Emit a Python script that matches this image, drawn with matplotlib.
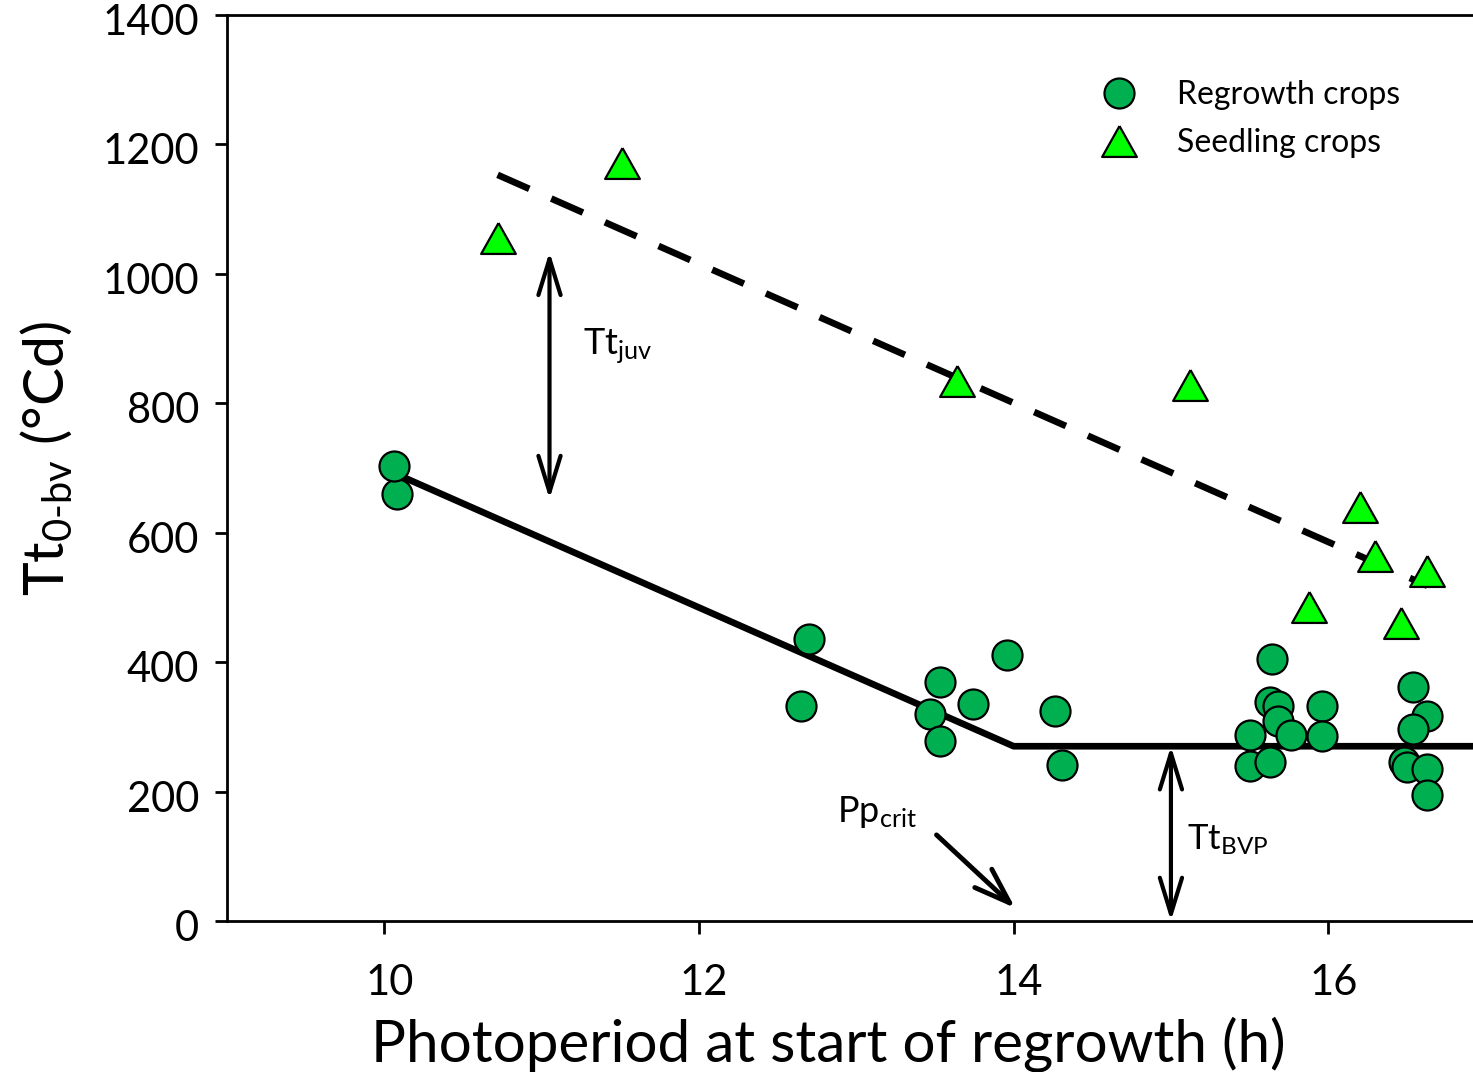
import matplotlib
matplotlib.use("Agg")
import matplotlib.pyplot as plt
import matplotlib.transforms as mtransforms
from matplotlib.lines import Line2D

plt.rcParams['font.family'] = ['Lato', 'DejaVu Sans']
plt.rcParams['mathtext.fontset'] = 'custom'
plt.rcParams['mathtext.rm'] = 'Lato'
plt.rcParams['mathtext.it'] = 'Lato:italic'
plt.rcParams['mathtext.bf'] = 'Lato:bold'

# regrowth crops: photoperiod (h) vs thermal time to buds visible (degC d)
regrowth_pp = [10.08, 10.06, 12.70, 12.65, 13.53, 13.47, 13.53, 13.74, 13.96, 14.26,
               14.31, 15.64, 15.63, 15.68, 15.68, 15.76, 15.50, 15.50, 15.63, 15.96,
               15.96, 16.54, 16.63, 16.54, 16.48, 16.50, 16.63, 16.63]
regrowth_tt = [660, 703, 436, 332, 369, 320, 278, 335, 411, 325,
               241, 405, 338, 332, 309, 287, 287, 240, 246, 332,
               286, 362, 317, 297, 246, 238, 235, 195]

# seedling crops
seedling_pp = [10.72, 11.51, 13.64, 15.12, 15.88, 16.20, 16.30, 16.63, 16.46]
seedling_tt = [1055, 1171, 834, 828, 485, 640, 564, 541, 460]

# fitted broken-stick (regrowth) and parallel line (seedlings)
fit_pp = [10.1, 14.0, 16.92]
fit_tt = [688, 270, 270]
seed_fit_pp = [10.72, 16.63]
seed_fit_tt = [1153, 518]

pp_crit = 14.0
tt_bvp = 270
juv_x = 11.05
juv_top, juv_bottom = 1034, 652

xticks = [10, 12, 14, 16]
yticks = [0, 200, 400, 600, 800, 1000, 1200, 1400]

fig = plt.figure(figsize=(14.73, 10.72), dpi=100)
ax = fig.add_axes([0.1541, 0.1409, 0.8459, 0.8451])

ax.plot(fit_pp, fit_tt, color='black', lw=4.8, solid_capstyle='butt', zorder=2)
ax.plot(seed_fit_pp, seed_fit_tt, color='black', lw=4.8, dashes=(5.2, 3.6), zorder=2)

tri = [(0, 0.89), (-1, -0.89), (1, -0.89), (0, 0.89)]
ax.plot(regrowth_pp, regrowth_tt, ls='none', marker='o', ms=21.6, mfc='#00B050',
        mec='black', mew=1.6, zorder=3)
ax.plot(seedling_pp, seedling_tt, ls='none', marker=tri, ms=25, mfc='#00FF00',
        mec='black', mew=1.6, zorder=3)

# arrows
ax.annotate('', xy=(juv_x, juv_bottom), xytext=(juv_x, juv_top),
            arrowprops=dict(arrowstyle='<->,head_length=1.3,head_width=0.4',
                            lw=3, color='black', shrinkA=0, shrinkB=0, mutation_scale=20))
ax.annotate('', xy=(15.0, 0), xytext=(15.0, tt_bvp),
            arrowprops=dict(arrowstyle='<->,head_length=1.3,head_width=0.4',
                            lw=3, color='black', shrinkA=0, shrinkB=0, mutation_scale=20))
ax.annotate('', xy=(pp_crit + 0.01, 20), xytext=(13.51, 133),
            arrowprops=dict(arrowstyle='->,head_length=1.3,head_width=0.45',
                            lw=3.5, color='black', shrinkA=0, shrinkB=0, mutation_scale=20))

ax.text(11.26, 875, r'Tt$_{\mathrm{juv}}$', fontsize=26, va='baseline', ha='left')
ax.text(12.88, 153, r'Pp$_{\mathrm{crit}}$', fontsize=26, va='baseline', ha='left')
ax.text(15.10, 110, r'Tt$_{\mathrm{BVP}}$', fontsize=25, va='baseline', ha='left')

ax.set_xlim(9, 16.92)
ax.set_ylim(0, 1400)
ax.set_xticks(xticks)
ax.set_yticks(yticks)
ax.tick_params(axis='both', direction='out', length=9, width=2, labelsize=30)
ax.tick_params(axis='x', pad=22)
ax.tick_params(axis='y', pad=11)
for s in ['left', 'bottom', 'top']:
    ax.spines[s].set_linewidth(2)
ax.spines['right'].set_visible(False)

# nudge tick labels a few pixels
for lab in ax.get_xticklabels():
    lab.set_transform(lab.get_transform() + mtransforms.ScaledTranslation(0.05, 0, fig.dpi_scale_trans))
for lab in ax.get_yticklabels():
    lab.set_transform(lab.get_transform() + mtransforms.ScaledTranslation(0, -0.045, fig.dpi_scale_trans))

ax.set_xlabel('Photoperiod at start of regrowth (h)', fontsize=42)
ax.set_ylabel(r'Tt$_{\text{0-bv}}$ (°Cd)', fontsize=41)
ax.xaxis.set_label_coords(0.483, -0.105)
ax.yaxis.set_label_coords(-0.122, 0.51)

handles = [
    Line2D([], [], ls='none', marker='o', ms=21.6, mfc='#00B050', mec='black', mew=1.6),
    Line2D([], [], ls='none', marker=tri, ms=25, mfc='#00FF00', mec='black', mew=1.6),
]
ax.legend(handles, ['Regrowth crops', 'Seedling crops'], loc='upper left',
          bbox_to_anchor=(0.703, 0.928), frameon=False, fontsize=23,
          handlelength=1.0, handletextpad=1.32, labelspacing=0.55,
          borderpad=0, borderaxespad=0)

fig.savefig('out.png', dpi=100)
